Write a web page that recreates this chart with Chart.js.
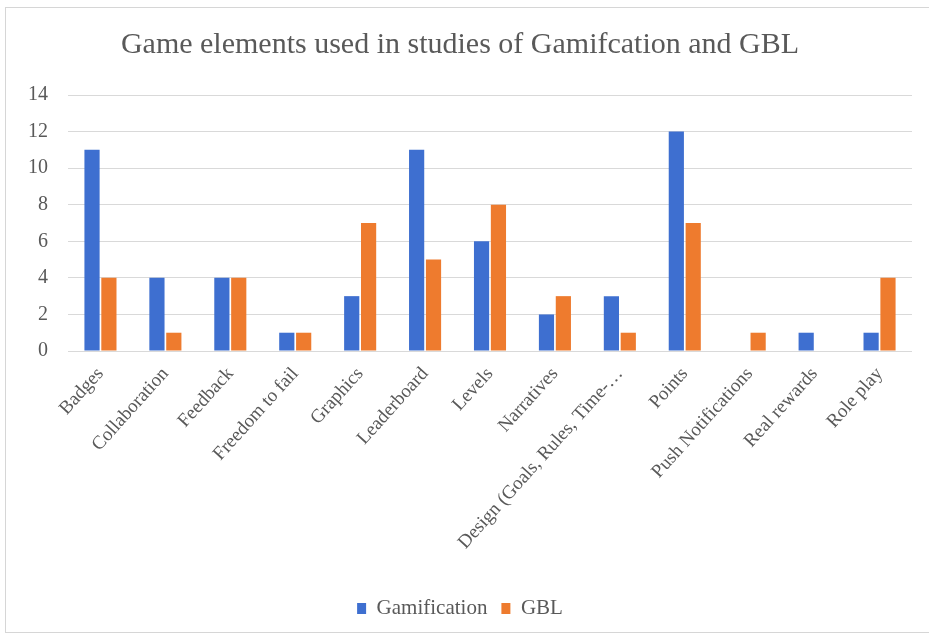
<!DOCTYPE html>
<html>
<head>
<meta charset="utf-8">
<script src="https://cdn.jsdelivr.net/npm/chart.js@4.4.1/dist/chart.umd.min.js"></script>
<style>
  body { margin: 0; background: #fff; overflow: hidden; }
  #frame { position: absolute; left: 5px; top: 7px; width: 940px; height: 624px; border: 1px solid #d6d6d6; }
  #wrap { position: absolute; left: 0; top: 0; width: 929px; height: 641px; }
</style>
</head>
<body>
<div id="frame"></div>
<div id="wrap"><canvas id="gameChart"></canvas></div>
<script>
// Categories and counts
const elements = ['Badges', 'Collaboration', 'Feedback', 'Freedom to fail', 'Graphics', 'Leaderboard',
    'Levels', 'Narratives', 'Design (Goals, Rules, Time-\u2026', 'Points', 'Push Notifications',
    'Real rewards', 'Role play'];
const gamification = [11, 4, 4, 1, 3, 11, 6, 2, 3, 12, 0, 1, 1];
const gbl = [4, 1, 4, 1, 7, 5, 8, 3, 1, 7, 1, 0, 4];

const serif = '"Liberation Serif", "Times New Roman", serif';

const ctx = document.getElementById('gameChart').getContext('2d');
const gameChart = new Chart(ctx, {
    type: 'bar',
    data: {
        labels: elements,
        datasets: [
            {
                label: 'Gamification',
                data: gamification,
                backgroundColor: '#3e6fd0',
                categoryPercentage: 0.52,
                barPercentage: 0.9
            },
            {
                label: 'GBL',
                data: gbl,
                backgroundColor: '#ee7b2e',
                categoryPercentage: 0.52,
                barPercentage: 0.9
            }
        ]
    },
    options: {
        responsive: true,
        maintainAspectRatio: false,
        animation: false,
        layout: { padding: { left: 8, right: 17, top: 22, bottom: 12 } },
        plugins: {
            title: {
                display: true,
                text: 'Game elements used in studies of Gamifcation and GBL',
                color: '#595959',
                font: { family: serif, size: 30, weight: 'normal' },
                padding: { top: 5, bottom: 32 }
            },
            legend: {
                position: 'bottom',
                labels: {
                    color: '#595959',
                    font: { family: serif, size: 21 },
                    boxWidth: 9,
                    boxHeight: 11,
                    padding: 14
                }
            },
            tooltip: { enabled: false }
        },
        scales: {
            x: {
                grid: { display: false },
                border: { display: false },
                ticks: {
                    color: '#595959',
                    font: { family: serif, size: 19 },
                    minRotation: 48,
                    maxRotation: 48,
                    autoSkip: false,
                    padding: 4
                },
                afterFit: (scale) => { scale.height = 233; }
            },
            y: {
                min: 0,
                max: 14,
                grid: { color: '#d9d9d9', drawTicks: false },
                border: { display: false },
                ticks: {
                    stepSize: 2,
                    color: '#595959',
                    font: { family: serif, size: 20 },
                    padding: 20
                }
            }
        }
    }
});
</script>
</body>
</html>
